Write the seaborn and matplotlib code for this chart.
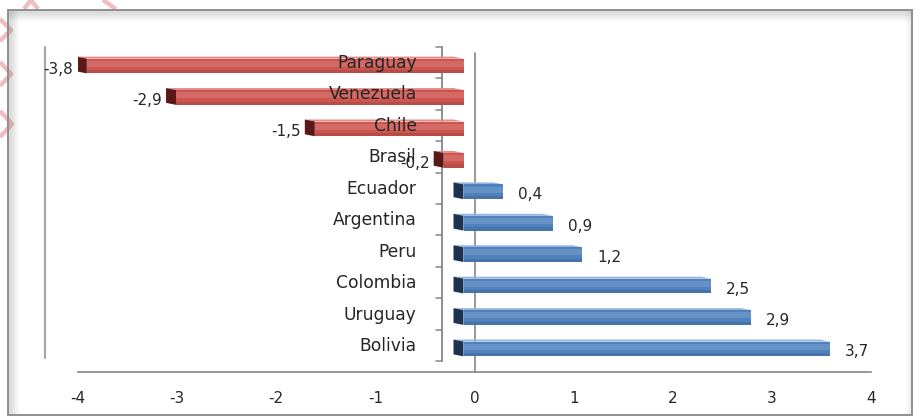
import numpy as np
import pandas as pd
import matplotlib
matplotlib.use("Agg")
import matplotlib.pyplot as plt
import seaborn as sns
from matplotlib.transforms import ScaledTranslation
from matplotlib.patches import Polygon, Rectangle
from matplotlib.lines import Line2D

# Data
countries = ["Paraguay", "Venezuela", "Chile", "Brasil", "Ecuador",
             "Argentina", "Peru", "Colombia", "Uruguay", "Bolivia"]
values = [-3.8, -2.9, -1.5, -0.2, 0.4, 0.9, 1.2, 2.5, 2.9, 3.7]
value_labels = ["-3,8", "-2,9", "-1,5", "-0,2", "0,4",
                "0,9", "1,2", "2,5", "2,9", "3,7"]
x_ticks = [-4, -3, -2, -1, 0, 1, 2, 3, 4]

W, H, DPI = 915, 418, 100
sns.set_theme(style="white")
plt.rcParams["font.family"] = ["DejaVu Sans"]

RED, RED_DARK, RED_TOP = "#CD5550", "#5A1816", "#E58A86"
BLUE, BLUE_DARK, BLUE_TOP = "#4F81BD", "#1C3252", "#93B5DD"
AXIS_GREY = "#868686"
TEXT = "#262626"
NAME_SIZE = 12.3
NUM_SIZE = 11

fig = plt.figure(figsize=(W / DPI, H / DPI), dpi=DPI)
fig.patch.set_facecolor("white")


def px_box(x0, y0, x1, y1):
    return [x0 / W, 1 - y1 / H, (x1 - x0) / W, (y1 - y0) / H]


def fig_px(x, y):
    return (x / W, 1 - y / H)


# decorative pink marks in the outer margin
pink_paths = [
    [(0, 19), (11, 30), (0, 41)],
    [(0, 62), (11, 74), (0, 86)],
    [(0, 111), (12, 124), (0, 137)],
    [(24, 9), (31, 0)],
    [(31, 0), (38, 9)],
    [(103, 0), (116, 9)],
]
for path in pink_paths:
    xs = [p[0] / W for p in path]
    ys = [1 - p[1] / H for p in path]
    fig.add_artist(Line2D(xs, ys, transform=fig.transFigure, color="#F0BDC2",
                          lw=3.2, solid_capstyle="butt", zorder=0))

# outer frame with a soft inner shadow
for k in range(10):
    a = 0.22 * (1 - k / 10)
    fig.add_artist(Line2D([(9 + k) / W] * 2, [1 - 11 / H, 1 - 414 / H],
                          transform=fig.transFigure, color="#7a7a7a",
                          alpha=a, lw=1, zorder=1))
    fig.add_artist(Line2D([9 / W, 911 / W], [1 - (11 + k) / H] * 2,
                          transform=fig.transFigure, color="#7a7a7a",
                          alpha=a, lw=1, zorder=1))
for k in range(6):
    a = 0.10 * (1 - k / 6)
    fig.add_artist(Line2D([(911 - k) / W] * 2, [1 - 11 / H, 1 - 414 / H],
                          transform=fig.transFigure, color="#7a7a7a",
                          alpha=a, lw=1, zorder=1))
fig.add_artist(Rectangle(fig_px(8, 415), 904 / W, 405 / H,
                         transform=fig.transFigure, fill=False,
                         edgecolor="#8f8f8f", lw=1.4, zorder=2))

# plot area
ax = fig.add_axes(px_box(78, 50.3, 871, 372))
ax.set_facecolor("none")

df = pd.DataFrame({"pais": countries, "valor": values})
df["signo"] = np.where(df["valor"] < 0, "neg", "pos")
sns.barplot(data=df, x="valor", y="pais", hue="signo",
            palette={"neg": RED, "pos": BLUE}, orient="h", width=0.47,
            dodge=False, legend=False, saturation=1, ax=ax, zorder=3)

spacing = (364.7 - 50.3) / 10
ax.set_xlim(-4, 4)
ax.set_ylim(-0.5 + (372 - 50.3) / spacing, -0.5)

ax.set_xticks(x_ticks)
ax.set_xticklabels([str(t) for t in x_ticks])
ax.set_yticks([])
ax.set_xlabel("")
ax.set_ylabel("")
for side in ["top", "right", "left"]:
    ax.spines[side].set_visible(False)
ax.spines["bottom"].set_color(AXIS_GREY)
ax.spines["bottom"].set_linewidth(1.2)
ax.tick_params(axis="x", direction="in", length=5, width=1.1,
               color=AXIS_GREY, pad=14, labelsize=NUM_SIZE, labelcolor=TEXT)

fig.canvas.draw()
to_disp = ax.transData.transform
to_data = ax.transData.inverted().transform

FRONT_DX = -11      # front face offset, pixels
DEPTH_DX, DEPTH_DY = -10, 2
shift = ScaledTranslation(FRONT_DX / DPI, 0, fig.dpi_scale_trans)

for p in list(ax.patches):
    x, y, w, h = p.get_x(), p.get_y(), p.get_width(), p.get_height()
    if w == 0:
        continue
    neg = w < 0
    x0, x1 = min(x, x + w), max(x, x + w)
    (L, Ya), (R, Yb) = to_disp((x0, y)), to_disp((x1, y + h))
    L += FRONT_DX
    R += FRONT_DX
    T, B = max(Ya, Yb), min(Ya, Yb)
    p.set_transform(ax.transData + shift)
    p.set_edgecolor("none")
    side = [(L, T), (L, B), (L + DEPTH_DX, B + DEPTH_DY), (L + DEPTH_DX, T + DEPTH_DY)]
    top = [(L, T), (R, T), (R + DEPTH_DX, T + DEPTH_DY), (L + DEPTH_DX, T + DEPTH_DY)]
    ax.add_patch(Polygon(to_data(side), closed=True, lw=0,
                         facecolor=RED_DARK if neg else BLUE_DARK, zorder=3))
    ax.add_patch(Polygon(to_data(top), closed=True, lw=0,
                         facecolor=RED_TOP if neg else BLUE_TOP, zorder=2.9))
    # soft shading on the front face: light upper band, darker lower edge
    hgt = T - B
    hi = [(L, T - 0.15 * hgt), (R, T - 0.15 * hgt), (R, T - 0.55 * hgt), (L, T - 0.55 * hgt)]
    lo = [(L, B + 0.22 * hgt), (R, B + 0.22 * hgt), (R, B), (L, B)]
    ax.add_patch(Polygon(to_data(hi), closed=True, lw=0, facecolor="white",
                         alpha=0.13, zorder=3.1))
    ax.add_patch(Polygon(to_data(lo), closed=True, lw=0, facecolor="black",
                         alpha=0.10, zorder=3.1))

# back wall: category axis and left edge
back = ScaledTranslation(-33 / DPI, 3.5 / DPI, fig.dpi_scale_trans)
n = len(countries)
ax.add_line(Line2D([0, 0], [-0.5, n - 0.5], transform=ax.transData + back,
                   color=AXIS_GREY, lw=1.3, zorder=1, clip_on=False))
for b in np.arange(-0.5, n, 1.0):
    bx, by = to_disp((0, b))
    seg = to_data([(bx - 33 - 6, by + 3.5), (bx - 33, by + 3.5)])
    ax.add_line(Line2D(seg[:, 0], seg[:, 1], color=AXIS_GREY, lw=1.1,
                       zorder=1, clip_on=False))
ax.add_line(Line2D([-4, -4], [-0.5, n - 0.6], transform=ax.transData + back,
                   color="#a8a8a8", lw=1.6, zorder=1, clip_on=False))

# zero line
ax.add_line(Line2D([0, 0], [-0.4, ax.get_ylim()[0]], color=AXIS_GREY,
                   lw=1.2, zorder=1.5, clip_on=False))

# category names on the back wall
for i, name in enumerate(countries):
    ax.annotate(name, xy=(0, i), xytext=(-58, 3), textcoords="offset pixels",
                ha="right", va="center", fontsize=NAME_SIZE, color=TEXT, zorder=5)

# value labels at the bar ends
for i, (v, lab) in enumerate(zip(values, value_labels)):
    if v < 0:
        ax.annotate(lab, xy=(v, i), xytext=(-25, -3), textcoords="offset pixels",
                    ha="right", va="center", fontsize=NUM_SIZE, color=TEXT, zorder=5)
    else:
        ax.annotate(lab, xy=(v, i), xytext=(4, -3), textcoords="offset pixels",
                    ha="left", va="center", fontsize=NUM_SIZE, color=TEXT, zorder=5)

fig.savefig("out.png", dpi=DPI, facecolor="white")
